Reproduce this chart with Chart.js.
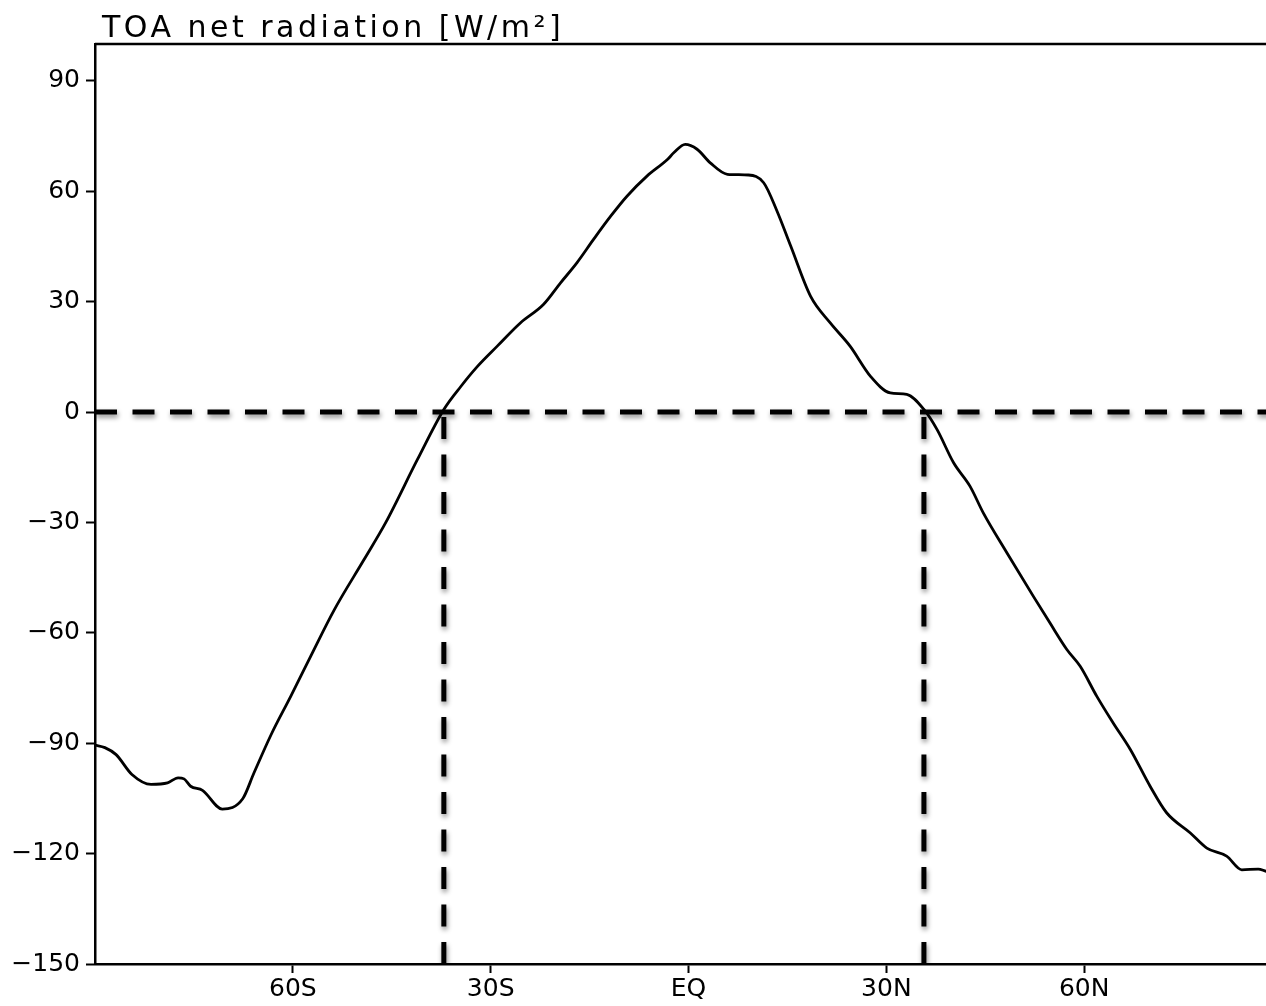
<!DOCTYPE html>
<html>
<head>
<meta charset="utf-8">
<title>TOA net radiation</title>
<script src="https://cdn.jsdelivr.net/npm/chart.js@4"></script>
<style>
    html, body { margin: 0; padding: 0; background: #fff; overflow: hidden; }
    #wrap { width: 1290px; height: 1006px; }
</style>
</head>
<body>
<div id="wrap"><canvas id="toaChart" width="1290" height="1006"></canvas></div>
<script>
// latitude (deg, negative = south) and zonal-mean TOA net radiation (W/m2)
const lats = [
    -90, -88.5, -86.8, -84.4, -81.5, -79.0, -77.4, -76.5, -75.5, -73.7,
    -70.7, -67.6, -65.9, -63.3, -60.3, -57.3, -53.7, -49.2, -45.9, -41.1,
    -37.1, -34.5, -32.0, -29.0, -25.5, -22.0, -19.4, -16.9, -14.4, -11.8,
    -9.3, -6.3, -3.2, -2.2, -0.5, 1.3, 3.3, 5.9, 9.1, 11.4,
    13.4, 15.5, 18.5, 21.5, 24.5, 27.6, 30.6, 33.1, 35.7, 37.7,
    40.2, 42.7, 44.7, 48.3, 52.3, 54.8, 57.4, 59.4, 61.9, 64.4,
    67.0, 70.0, 72.5, 76.1, 78.6, 81.6, 83.9, 86.4, 87.6, 90
];
const netRad = [
    -90.5, -91.2, -93.1, -98.5, -101.2, -100.8, -99.4, -99.7, -101.7, -102.8,
    -107.9, -105.1, -98.1, -87.7, -77.2, -66.4, -53.7, -40.1, -30.0, -12.9,
    0.7, 7.0, 12.4, 17.9, 24.2, 29.2, 35.1, 40.6, 46.9, 53.2,
    58.7, 64.1, 68.6, 70.5, 72.7, 71.4, 67.7, 64.6, 64.4, 62.3,
    54.7, 45.1, 31.5, 24.2, 17.9, 9.7, 5.2, 4.8, 0.7, -4.8,
    -13.8, -20.2, -27.4, -38.3, -50.1, -57.3, -64.6, -69.1, -77.2, -84.5,
    -91.7, -101.7, -108.9, -114.4, -118.5, -120.7, -124.4, -124.2, -124.8, -125.5
];

// where the curve crosses zero
const crossLats = [-37.1, 35.7];

const xTickVals = [-60, -30, 0, 30, 60];
const xTickLabels = ['60S', '30S', 'EQ', '30N', '60N'];
const yTickVals = [-150, -120, -90, -60, -30, 0, 30, 60, 90];
const yTickLabels = ['\u2212150', '\u2212120', '\u221290', '\u221260', '\u221230', '0', '30', '60', '90'];

const titleText = 'TOA net radiation [W/m\u00b2]';
const fontFamily = '"DejaVu Sans", sans-serif';

const curve = lats.map((lat, i) => ({ x: lat, y: netRad[i] }));
const zeroLine = [{ x: -90, y: 0 }, { x: 90, y: 0 }];

const dashStyle = {
    borderColor: '#000',
    borderWidth: 5,
    borderDash: [22, 15.5],
    pointRadius: 0,
    fill: false,
    shadow: true
};

const datasets = [{
    data: curve,
    borderColor: '#000',
    borderWidth: 2.8,
    pointRadius: 0,
    fill: false,
    cubicInterpolationMode: 'monotone'
}, {
    ...dashStyle,
    data: zeroLine
}];

// vertical dashes run from the bottom axis up to zero
crossLats.forEach(lat => {
    datasets.push({ ...dashStyle, data: [{ x: lat, y: -150 }, { x: lat, y: 0 }] });
});

// soft grey shadow under the dashed reference lines
const shadowPlugin = {
    id: 'dashShadow',
    beforeDatasetDraw(chart, args) {
        if (!chart.data.datasets[args.index].shadow) return;
        const ctx = chart.ctx;
        ctx.save();
        ctx.shadowColor = 'rgba(0, 0, 0, 0.45)';
        ctx.shadowBlur = 5;
        ctx.shadowOffsetX = 1;
        ctx.shadowOffsetY = 3;
    },
    afterDatasetDraw(chart, args) {
        if (!chart.data.datasets[args.index].shadow) return;
        chart.ctx.restore();
    }
};

// frame on top and right, plus the title text
const framePlugin = {
    id: 'frame',
    afterDraw(chart) {
        const { ctx, chartArea } = chart;
        ctx.save();
        ctx.strokeStyle = '#000';
        ctx.lineWidth = 2.5;
        ctx.beginPath();
        ctx.moveTo(chartArea.left, chartArea.top);
        ctx.lineTo(chartArea.right, chartArea.top);
        ctx.lineTo(chartArea.right, chartArea.bottom);
        ctx.stroke();

        ctx.fillStyle = '#000';
        ctx.font = '30px ' + fontFamily;
        ctx.letterSpacing = '3.5px';
        ctx.textAlign = 'left';
        ctx.textBaseline = 'alphabetic';
        ctx.fillText(titleText, chartArea.left + 7, chartArea.top - 7);
        ctx.restore();
    }
};

new Chart(document.getElementById('toaChart').getContext('2d'), {
    type: 'line',
    data: { datasets: datasets },
    options: {
        responsive: false,
        animation: false,
        layout: { padding: { top: 44, right: 8, left: 0, bottom: 0 } },
        plugins: {
            legend: { display: false },
            tooltip: { enabled: false },
            title: { display: false }
        },
        scales: {
            x: {
                type: 'linear',
                min: -90,
                max: 90,
                afterBuildTicks: scale => {
                    scale.ticks = xTickVals.map(v => ({ value: v }));
                },
                afterFit: scale => { scale.height = 42; },
                ticks: {
                    autoSkip: false,
                    maxRotation: 0,
                    padding: 1,
                    color: '#000',
                    font: { family: fontFamily, size: 25 },
                    callback: value => xTickLabels[xTickVals.indexOf(value)]
                },
                grid: {
                    drawOnChartArea: false,
                    drawTicks: true,
                    tickLength: 9,
                    tickWidth: 2,
                    tickColor: '#000'
                },
                border: { display: true, color: '#000', width: 2.5 }
            },
            y: {
                type: 'linear',
                min: -150,
                max: 100,
                afterBuildTicks: scale => {
                    scale.ticks = yTickVals.map(v => ({ value: v }));
                },
                afterFit: scale => { scale.width = 95; },
                ticks: {
                    autoSkip: false,
                    padding: 6,
                    color: '#000',
                    font: { family: fontFamily, size: 25 },
                    callback: value => yTickLabels[yTickVals.indexOf(value)]
                },
                grid: {
                    drawOnChartArea: false,
                    drawTicks: true,
                    tickLength: 9,
                    tickWidth: 2,
                    tickColor: '#000'
                },
                border: { display: true, color: '#000', width: 2.5 }
            }
        }
    },
    plugins: [shadowPlugin, framePlugin]
});
</script>
</body>
</html>
